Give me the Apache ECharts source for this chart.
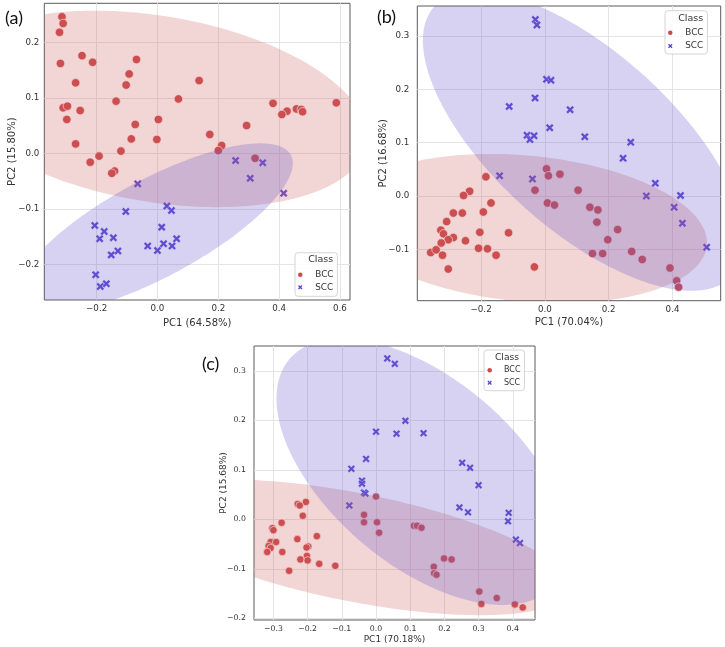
<!DOCTYPE html>
<html>
<head>
<meta charset="utf-8">
<script src="https://cdn.jsdelivr.net/npm/echarts@6/dist/echarts.min.js"></script>
<style>html,body{margin:0;padding:0;background:#fff}#chart{width:725px;height:647px}</style>
</head>
<body>
<div id="chart"></div>
<script>
// ---------- data ----------
const bccA = [[-0.314,0.246],[-0.310,0.234],[-0.322,0.218],[-0.319,0.162],[-0.248,0.176],[-0.213,0.164],[-0.069,0.169],[-0.093,0.143],[-0.269,0.127],[-0.103,0.123],[0.137,0.131],[-0.136,0.094],[0.069,0.098],[-0.310,0.082],[-0.296,0.085],[-0.254,0.077],[-0.298,0.061],[0.003,0.061],[-0.073,0.052],[0.380,0.090],[0.588,0.091],[0.426,0.076],[0.409,0.070],[0.457,0.080],[0.473,0.079],[0.477,0.075],[0.293,0.050],[0.172,0.034],[-0.086,0.026],[-0.002,0.025],[-0.269,0.017],[0.211,0.014],[0.200,0.005],[-0.120,0.004],[-0.192,-0.005],[-0.221,-0.016],[0.321,-0.009],[-0.141,-0.032],[-0.150,-0.036]];
const sccA = [[0.257,-0.013],[0.346,-0.017],[0.305,-0.045],[0.415,-0.072],[-0.065,-0.055],[-0.104,-0.105],[0.031,-0.095],[0.046,-0.103],[0.014,-0.133],[-0.206,-0.130],[-0.175,-0.141],[-0.190,-0.154],[-0.145,-0.152],[0.063,-0.154],[-0.032,-0.167],[0.000,-0.175],[0.020,-0.163],[0.048,-0.167],[-0.130,-0.176],[-0.152,-0.183],[-0.203,-0.219],[-0.188,-0.240],[-0.168,-0.235]];
const bccB = [[0.005,0.051],[0.011,0.038],[0.047,0.041],[-0.185,0.036],[-0.236,0.009],[-0.255,0.001],[-0.031,0.011],[0.104,0.011],[-0.169,-0.013],[0.008,-0.013],[0.030,-0.017],[-0.287,-0.032],[-0.259,-0.032],[-0.193,-0.030],[0.141,-0.021],[0.166,-0.026],[-0.308,-0.048],[0.163,-0.049],[-0.326,-0.064],[-0.318,-0.071],[-0.204,-0.068],[-0.114,-0.069],[0.228,-0.063],[-0.287,-0.078],[-0.303,-0.082],[-0.249,-0.084],[0.197,-0.082],[-0.325,-0.088],[-0.208,-0.098],[-0.180,-0.099],[-0.358,-0.106],[-0.341,-0.101],[-0.321,-0.111],[-0.153,-0.111],[0.149,-0.108],[0.181,-0.108],[0.272,-0.104],[0.305,-0.119],[-0.303,-0.137],[-0.033,-0.133],[0.392,-0.135],[0.413,-0.159],[0.419,-0.171]];
const sccB = [[-0.030,0.331],[-0.025,0.321],[0.005,0.219],[0.019,0.217],[-0.031,0.184],[-0.112,0.168],[0.079,0.162],[0.015,0.128],[-0.056,0.114],[-0.047,0.106],[-0.034,0.113],[0.125,0.111],[0.269,0.101],[0.245,0.071],[-0.142,0.038],[-0.039,0.032],[0.346,0.024],[0.318,0.000],[0.425,0.001],[0.405,-0.021],[0.431,-0.051],[0.507,-0.096]];
const bccC = [[0.000,0.046],[-0.205,0.035],[-0.229,0.031],[-0.223,0.028],[-0.214,0.007],[-0.035,0.009],[-0.035,-0.006],[0.003,-0.006],[0.009,-0.027],[-0.276,-0.007],[-0.303,-0.018],[-0.300,-0.022],[0.111,-0.013],[0.120,-0.013],[0.133,-0.017],[-0.173,-0.034],[-0.230,-0.040],[-0.308,-0.046],[-0.292,-0.046],[-0.314,-0.054],[-0.198,-0.055],[-0.203,-0.057],[-0.308,-0.058],[-0.318,-0.066],[-0.274,-0.066],[-0.202,-0.074],[-0.221,-0.081],[-0.200,-0.083],[0.199,-0.079],[0.221,-0.081],[-0.166,-0.090],[-0.119,-0.094],[-0.254,-0.104],[0.169,-0.096],[0.170,-0.109],[0.177,-0.112],[0.302,-0.146],[0.353,-0.159],[0.308,-0.171],[0.406,-0.172],[0.429,-0.178]];
const sccC = [[0.033,0.325],[0.055,0.314],[0.086,0.199],[0.000,0.177],[0.060,0.173],[0.139,0.174],[-0.029,0.122],[-0.072,0.102],[0.252,0.114],[0.275,0.104],[-0.041,0.078],[-0.041,0.072],[0.300,0.069],[-0.035,0.054],[-0.031,0.052],[-0.078,0.028],[0.244,0.024],[0.269,0.014],[0.388,0.013],[0.386,-0.004],[0.409,-0.041],[0.421,-0.048]];

// confidence ellipses: [centerX, centerY, halfExtentX, halfExtentY, correlation]
const ellBccA = [-0.005, 0.080, 0.694, 0.177, -0.288];
const ellSccA = [-0.009, -0.135, 0.454, 0.153, 0.765];
const ellBccB = [-0.063, -0.061, 0.571, 0.140, -0.19];
const ellSccB = [0.1215, 0.1033, 0.504, 0.281, -0.67];
const ellBccC = [-0.0607, -0.0567, 0.627, 0.137, -0.583];
const ellSccC = [0.136, 0.096, 0.427, 0.269, -0.55];

// tick labels
const ticksAx = [-0.2, 0.0, 0.2, 0.4, 0.6];
const ticksAy = [-0.2, -0.1, 0.0, 0.1, 0.2];
const ticksBx = [-0.2, 0.0, 0.2, 0.4];
const ticksBy = [-0.1, 0.0, 0.1, 0.2, 0.3];
const ticksCx = [-0.3, -0.2, -0.1, 0.0, 0.1, 0.2, 0.3, 0.4];
const ticksCy = [-0.2, -0.1, 0.0, 0.1, 0.2, 0.3];

const xNames = ['PC1 (64.58%)', 'PC1 (70.04%)', 'PC1 (70.18%)'];
const yNames = ['PC2 (15.80%)', 'PC2 (16.68%)', 'PC2 (15.68%)'];
const panelLetters = ['(a)', '(b)', '(c)'];
const classNames = ['BCC', 'SCC'];

// ---------- styling / layout ----------
const RED = '#cc4a4c';
const BLUE = '#5b49d2';
const RED_FILL = 'rgba(205,92,92,0.26)';
const BLUE_FILL = 'rgba(106,90,205,0.27)';
const XPATH = 'path://M2.2,0 L5,2.8 L7.8,0 L10,2.2 L7.2,5 L10,7.8 L7.8,10 L5,7.2 L2.2,10 L0,7.8 L2.8,5 L0,2.2 Z';
const FONT = 'DejaVu Sans';
const fmt = v => (v < -1e-9 ? '\u2212' : '') + Math.abs(v).toFixed(1);

const panels = [
  { grid: {left: 44.3, top: 3.3, width: 305.7, height: 296.7},
    xr: [-0.372, 0.633], yr: [-0.2643, 0.2703], tx: ticksAx, ty: ticksAy,
    bcc: bccA, scc: sccA, eb: ellBccA, es: ellSccA,
    tick: 8.7, nameFs: 10, xm: 4, ym: 5, xg: 18, yg: 27, sym: 8.5, xs: 8,
    legend: {left: 295, top: 252.7, pad: [16, 4, 3, 3], fs: 8.8, iw: 20, gap: 0.6},
    classPos: [320.7, 260], classFs: 9.5, letterPos: [14, 18.5] },
  { grid: {left: 417.3, top: 6, width: 303.4, height: 294.7},
    xr: [-0.400, 0.551], yr: [-0.1964, 0.3565], tx: ticksBx, ty: ticksBy,
    bcc: bccB, scc: sccB, eb: ellBccB, es: ellSccB,
    tick: 8.7, nameFs: 10, xm: 5, ym: 8, xg: 16.5, yg: 29, sym: 8.5, xs: 8,
    legend: {left: 665, top: 10.7, pad: [16, 4, 2, 3], fs: 8.8, iw: 20, gap: 1.3},
    classPos: [690.7, 18.3], classFs: 9.5, letterPos: [386.5, 17.5] },
  { grid: {left: 254, top: 346, width: 281, height: 274},
    xr: [-0.3567, 0.4649], yr: [-0.2034, 0.350], tx: ticksCx, ty: ticksCy,
    bcc: bccC, scc: sccC, eb: ellBccC, es: ellSccC,
    tick: 7.8, nameFs: 9, xm: 5, ym: 8, xg: 15, yg: 26, sym: 7.5, xs: 7.5,
    legend: {left: 484, top: 350, pad: [14.3, 4, 2, 3.4], fs: 8, iw: 18.6, gap: 0.4},
    classPos: [507, 357.3], classFs: 9.2, letterPos: [210.7, 364.5] }
];

function ellipseSeries(par, idx, fill) {
  return {
    type: 'custom', xAxisIndex: idx, yAxisIndex: idx, z: 3, silent: true, clip: true,
    data: [[par[0], par[1]]],
    renderItem: function (p, api) {
      const cx = par[0], cy = par[1], rx = par[2], ry = par[3], rho = par[4];
      const a = Math.sqrt(1 + rho) / Math.SQRT2, b = Math.sqrt(1 - rho) / Math.SQRT2;
      const pts = [];
      for (let k = 0; k <= 240; k++) {
        const t = k / 240 * 2 * Math.PI;
        const u = a * Math.cos(t) - b * Math.sin(t);
        const v = a * Math.cos(t) + b * Math.sin(t);
        pts.push(api.coord([cx + rx * u, cy + ry * v]));
      }
      const cs = p.coordSys;
      return {
        type: 'polygon', shape: {points: pts}, style: {fill: fill, stroke: null},
        clipPath: {type: 'rect', shape: {x: cs.x, y: cs.y, width: cs.width, height: cs.height}}
      };
    }
  };
}

const option = {
  backgroundColor: '#ffffff',
  animation: false,
  grid: [], xAxis: [], yAxis: [], series: [], legend: [], graphic: []
};

panels.forEach((P, i) => {
  option.grid.push(Object.assign({show: true, borderColor: '#5a5a5a', borderWidth: 1, backgroundColor: 'transparent', containLabel: false}, P.grid));
  option.xAxis.push({
    gridIndex: i, type: 'value', min: P.xr[0], max: P.xr[1],
    axisLine: {show: false}, axisTick: {show: false, customValues: P.tx},
    axisLabel: {customValues: P.tx, formatter: fmt, fontSize: P.tick, color: '#333', margin: P.xm, fontFamily: FONT},
    splitLine: {show: true, lineStyle: {color: '#e4e4e4', width: 1}},
    name: xNames[i], nameLocation: 'middle', nameGap: P.xg, nameMoveOverlap: false,
    nameTextStyle: {fontSize: P.nameFs, color: '#333', fontFamily: FONT}
  });
  option.yAxis.push({
    gridIndex: i, type: 'value', min: P.yr[0], max: P.yr[1],
    axisLine: {show: false}, axisTick: {show: false, customValues: P.ty},
    axisLabel: {customValues: P.ty, formatter: fmt, fontSize: P.tick, color: '#333', margin: P.ym, fontFamily: FONT},
    splitLine: {show: true, lineStyle: {color: '#e4e4e4', width: 1}},
    name: yNames[i], nameLocation: 'middle', nameGap: P.yg, nameMoveOverlap: false,
    nameTextStyle: {fontSize: P.nameFs, color: '#333', fontFamily: FONT}
  });
  option.series.push({
    type: 'scatter', name: classNames[0], xAxisIndex: i, yAxisIndex: i, z: 2,
    data: P.bcc, symbol: 'circle', symbolSize: P.sym,
    itemStyle: {color: RED, borderColor: '#ffffff', borderWidth: 0.7, opacity: 1}
  });
  option.series.push({
    type: 'scatter', name: classNames[1], xAxisIndex: i, yAxisIndex: i, z: 2,
    data: P.scc, symbol: XPATH, symbolSize: P.xs,
    itemStyle: {color: BLUE, borderColor: '#ffffff', borderWidth: 0.3, opacity: 1}
  });
  option.series.push(ellipseSeries(P.eb, i, RED_FILL));
  option.series.push(ellipseSeries(P.es, i, BLUE_FILL));
  const L = P.legend;
  option.legend.push({
    left: L.left, top: L.top, orient: 'vertical', z: 6, selectedMode: false,
    data: [{name: classNames[0], icon: 'circle'}, {name: classNames[1], icon: XPATH}],
    itemWidth: L.iw, itemHeight: 4.5, itemGap: L.gap, padding: L.pad,
    itemStyle: {borderWidth: 0},
    textStyle: {fontSize: L.fs, lineHeight: 12, color: '#333', fontFamily: FONT},
    backgroundColor: 'rgba(255,255,255,0.85)', borderColor: '#d5d5d5', borderWidth: 1, borderRadius: 3
  });
  option.graphic.push({
    type: 'text', x: P.classPos[0], y: P.classPos[1], z: 100,
    style: {text: 'Class', fontSize: P.classFs, fontFamily: FONT, fill: '#333', align: 'center', verticalAlign: 'middle'}
  });
  option.graphic.push({
    type: 'text', x: P.letterPos[0], y: P.letterPos[1], z: 100,
    style: {text: panelLetters[i], fontSize: 18, fontFamily: 'Lato', fill: '#111', align: 'center', verticalAlign: 'middle'}
  });
});

const chart = echarts.init(document.getElementById('chart'), null, {renderer: 'canvas'});
chart.setOption(option);
</script>
</body>
</html>
